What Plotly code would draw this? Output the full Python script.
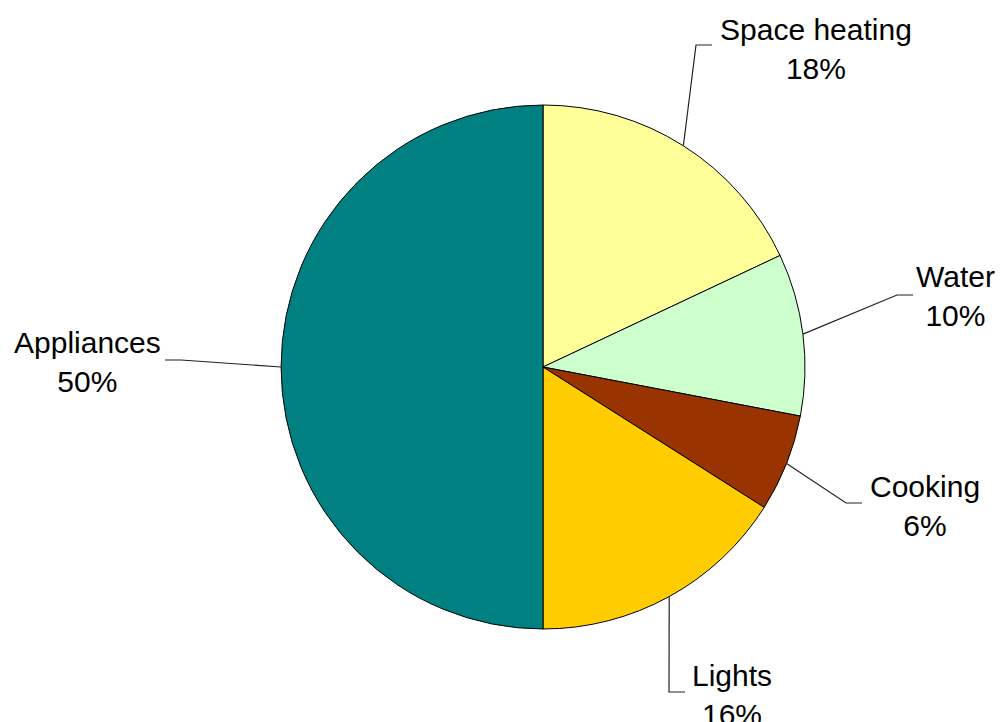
import math
import plotly.graph_objects as go

# Household electricity use by end use
categories = ["Space heating", "Water", "Cooking", "Lights", "Appliances"]
values = [18, 10, 6, 16, 50]
colors = ["#FFFF99", "#CCFFCC", "#993300", "#FFCC00", "#008080"]

W, H = 1003, 722
CX, CY, R = 543, 367, 262  # pie centre and radius in pixels

# Label block centres and the outer end of each leader line (pixels)
label_pos = [(816, 49), (955, 296), (925, 506), (732, 695), (87, 362)]
leader_tip = [(712, 45), (913, 295), (862, 503), (685, 692), (165, 360)]


def px(x):
    return x / W


def py(y):
    return 1 - y / H


fig = go.Figure(
    go.Pie(
        labels=categories,
        values=values,
        sort=False,
        direction="clockwise",
        rotation=0,
        textinfo="none",
        hoverinfo="label+percent",
        marker=dict(colors=colors, line=dict(color="#000000", width=1)),
        domain=dict(x=[px(CX - R), px(CX + R)], y=[py(CY + R), py(CY - R)]),
        showlegend=False,
    )
)

total = sum(values)
shapes = []
annotations = []
cum = 0
for name, v, (lx, ly), (tx, ty) in zip(categories, values, label_pos, leader_tip):
    mid = (cum + v / 2) / total * 2 * math.pi
    cum += v
    ex = CX + R * math.sin(mid)
    ey = CY - R * math.cos(mid)
    # elbow sits a short step from the tip, on the pie side
    elbow_x = tx - 16 if tx > CX else tx + 16
    path = f"M {px(ex)},{py(ey)} L {px(elbow_x)},{py(ty)} L {px(tx)},{py(ty)}"
    shapes.append(dict(type="path", xref="paper", yref="paper", path=path,
                       line=dict(color="#222222", width=1.2)))
    annotations.append(dict(
        x=px(lx), y=py(ly), xref="paper", yref="paper",
        text=f"{name}<br>{v / total * 100:.0f}%",
        showarrow=False, xanchor="center", yanchor="middle", align="center",
        font=dict(family="Liberation Sans, Arial, sans-serif", size=30, color="#000000"),
    ))

fig.update_layout(
    width=W, height=H,
    margin=dict(l=0, r=0, t=0, b=0),
    paper_bgcolor="#FFFFFF",
    plot_bgcolor="#FFFFFF",
    shapes=shapes,
    annotations=annotations,
)

fig.write_html("out.html")
